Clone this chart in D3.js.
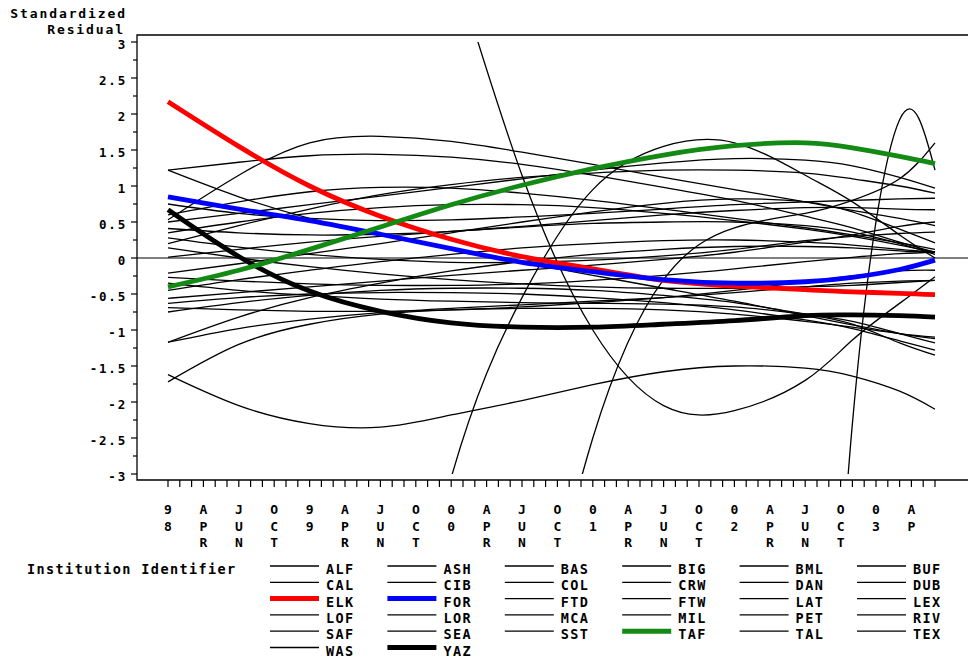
<!DOCTYPE html>
<html>
<head>
<meta charset="utf-8">
<script src="https://cdn.jsdelivr.net/npm/d3@7"></script>
<style>
  html, body { margin: 0; padding: 0; background: #fff; }
  svg { display: block; }
  text { font-family: "DejaVu Sans Mono", "Liberation Mono", monospace; font-weight: bold; fill: #000; }
</style>
</head>
<body>
<svg id="chart" width="968" height="661"></svg>
<script>
// Axis positions (in tick units) at which each smoothed residual curve is listed
const gridT = [0, 6, 12, 18, 24, 30, 36, 42, 48, 54, 58, 62, 65];

// Date labels under every third tick, written one character per line
const dateLabels = ["98", "APR", "JUN", "OCT", "99", "APR", "JUN", "OCT", "00", "APR", "JUN", "OCT",
                    "01", "APR", "JUN", "OCT", "02", "APR", "JUN", "OCT", "03", "AP"];
const tickCount = 66;

const yMajor = [3, 2.5, 2, 1.5, 1, 0.5, 0, -0.5, -1, -1.5, -2, -2.5, -3];
const yMajorLabels = ["3", "2.5", "2", "1.5", "1", "0.5", "0", "-0.5", "-1", "-1.5", "-2", "-2.5", "-3"];
const yMinor = [2.75, 2.25, 1.75, 1.25, 0.75, 0.25, -0.25, -0.75, -1.25, -1.75, -2.25, -2.75];

// Standardized residual per institution
const ALF = [0.53, 1.15, 1.60, 1.69, 1.62, 1.47, 1.30, 1.12, 0.95, 0.78, 0.66, 0.55, 0.45];
const ASH = [1.22, 1.33, 1.42, 1.44, 1.40, 1.30, 1.15, 0.98, 0.80, 0.58, 0.42, 0.22, 0.08];
const BAS = [1.22, 0.85, 0.55, 0.32, 0.12, -0.06, -0.24, -0.42, -0.60, -0.80, -0.93, -1.05, -1.12];
const BIG = [0.75, 0.62, 0.55, 0.52, 0.53, 0.57, 0.62, 0.68, 0.74, 0.78, 0.80, 0.82, 0.83];
const BML = [0.60, 0.78, 0.92, 0.98, 0.97, 0.90, 0.80, 0.68, 0.55, 0.42, 0.32, 0.21, 0.12];
const BUF = [22, 16.5, 11.5, 7.5, 4.2, 1.15, -1.0, -2.05, -2.12, -1.70, -1.14, -0.63, -0.26];
const CAL = [0.50, 0.62, 0.74, 0.86, 0.98, 1.10, 1.22, 1.32, 1.38, 1.36, 1.28, 1.12, 0.97];
const CIB = [0.41, 0.35, 0.32, 0.33, 0.37, 0.44, 0.52, 0.60, 0.66, 0.70, 0.70, 0.68, 0.67];
const COL = [0.35, 0.50, 0.62, 0.70, 0.74, 0.74, 0.70, 0.62, 0.52, 0.40, 0.30, 0.18, 0.08];
const CRW = [0.28, 0.15, 0.05, -0.02, -0.06, -0.06, -0.03, 0.03, 0.12, 0.24, 0.30, 0.34, 0.36];
const DAN = [0.14, 0.0, -0.12, -0.22, -0.30, -0.36, -0.40, -0.42, -0.42, -0.40, -0.38, -0.34, -0.31];
const DUB = [0.01, 0.12, 0.22, 0.30, 0.37, 0.43, 0.48, 0.50, 0.50, 0.45, 0.36, 0.20, 0.05];
const ELK = [2.17, 1.55, 1.0, 0.58, 0.26, 0.02, -0.15, -0.31, -0.39, -0.44, -0.47, -0.49, -0.51];
const FOR = [0.85, 0.68, 0.52, 0.33, 0.13, -0.06, -0.19, -0.30, -0.35, -0.33, -0.27, -0.16, -0.03];
const FTD = [-0.21, -0.08, 0.06, 0.20, 0.35, 0.50, 0.64, 0.76, 0.82, 0.78, 0.64, 0.40, 0.21];
const FTW = [-0.27, -0.32, -0.36, -0.38, -0.38, -0.36, -0.31, -0.24, -0.15, -0.05, 0.01, 0.06, 0.08];
const LAT = [-0.35, -0.45, -0.52, -0.57, -0.60, -0.62, -0.63, -0.64, -0.68, -0.78, -0.88, -1.05, -1.18];
const LEX = [-0.45, -0.30, -0.17, -0.05, 0.05, 0.14, 0.20, 0.24, 0.25, 0.22, 0.18, 0.12, 0.08];
const LOF = [-0.56, -0.48, -0.40, -0.32, -0.24, -0.17, -0.10, -0.02, 0.08, 0.22, 0.32, 0.44, 0.50];
const LOR = [-26, -19, -13, -7.5, -3.05, -0.55, 0.95, 1.55, 1.60, 1.15, 0.78, 0.32, 0.0];
const MCA = [-0.63, -0.55, -0.50, -0.48, -0.48, -0.50, -0.55, -0.62, -0.72, -0.86, -0.98, -1.15, -1.28];
const MIL = [-0.69, -0.72, -0.74, -0.74, -0.72, -0.68, -0.62, -0.55, -0.45, -0.33, -0.25, -0.18, -0.17];
const PET = [-0.75, -0.62, -0.52, -0.45, -0.42, -0.42, -0.45, -0.52, -0.62, -0.78, -0.92, -1.18, -1.35];
const RIV = [-1.17, -0.98, -0.85, -0.76, -0.70, -0.65, -0.60, -0.55, -0.48, -0.40, -0.35, -0.32, -0.31];
const SAF = [-1.17, -0.82, -0.55, -0.35, -0.18, -0.05, 0.05, 0.12, 0.16, 0.16, 0.14, 0.10, 0.08];
const SEA = [-1.72, -1.20, -0.92, -0.78, -0.72, -0.70, -0.70, -0.72, -0.78, -0.88, -0.96, -1.05, -1.10];
const SST = [-1.62, -2.05, -2.30, -2.35, -2.18, -1.98, -1.76, -1.58, -1.50, -1.53, -1.64, -1.85, -2.10];
const TAF = [-0.40, -0.17, 0.12, 0.43, 0.74, 1.01, 1.24, 1.43, 1.56, 1.60, 1.53, 1.41, 1.31];
const TAL = [-33, -27, -21, -16, -11, -6.5, -2.5, -0.3, 0.42, 0.62, 0.80, 1.10, 1.60];
const TEX = [0.20, 0.45, 0.68, 0.88, 1.02, 1.12, 1.18, 1.22, 1.22, 1.18, 1.10, 1.00, 0.90];
const WAS = [-150, -128, -108, -90, -73, -58, -44, -31, -20, -11, -2.3, 1.92, 1.22];
const YAZ = [0.67, 0.02, -0.46, -0.74, -0.90, -0.96, -0.96, -0.92, -0.87, -0.80, -0.79, -0.80, -0.82];

const institutions = ["ALF", "ASH", "BAS", "BIG", "BML", "BUF",
                      "CAL", "CIB", "COL", "CRW", "DAN", "DUB",
                      "ELK", "FOR", "FTD", "FTW", "LAT", "LEX",
                      "LOF", "LOR", "MCA", "MIL", "PET", "RIV",
                      "SAF", "SEA", "SST", "TAF", "TAL", "TEX",
                      "WAS", "YAZ"];
const residuals = { ALF, ASH, BAS, BIG, BML, BUF, CAL, CIB, COL, CRW, DAN, DUB, ELK, FOR, FTD, FTW,
                    LAT, LEX, LOF, LOR, MCA, MIL, PET, RIV, SAF, SEA, SST, TAF, TAL, TEX, WAS, YAZ };

// Institutions drawn with a heavy coloured line (others are thin black)
const highlight = { ELK: "#ff0000", FOR: "#0000ff", YAZ: "#000000", TAF: "#138a13" };
const highlightOrder = ["ELK", "FOR", "YAZ", "TAF"];

const svg = d3.select("#chart");
svg.append("rect").attr("width", 968).attr("height", 661).attr("fill", "#fff");

const frame = { left: 137, top: 35, right: 968, bottom: 480 };
const x = d3.scaleLinear().domain([0, tickCount - 1]).range([168, 935]);
const y = d3.scaleLinear().domain([-3, 3]).range([474, 42]);

// clip curves to the vertical range of the axis
svg.append("defs").append("clipPath").attr("id", "plotClip")
  .append("rect")
  .attr("x", frame.left).attr("y", y(3))
  .attr("width", frame.right - frame.left).attr("height", y(-3) - y(3));

// frame
svg.append("path")
  .attr("d", `M${frame.right},${frame.top}H${frame.left}V${frame.bottom}H${frame.right}`)
  .attr("fill", "none").attr("stroke", "#000").attr("stroke-width", 1.3);

// zero reference line
svg.append("line")
  .attr("x1", frame.left).attr("x2", frame.right)
  .attr("y1", y(0)).attr("y2", y(0))
  .attr("stroke", "#000").attr("stroke-width", 1.1);

// y axis ticks and labels
const yAxis = svg.append("g");
yAxis.selectAll("line.major").data(yMajor).join("line")
  .attr("x1", frame.left - 6).attr("x2", frame.left)
  .attr("y1", d => y(d)).attr("y2", d => y(d))
  .attr("stroke", "#000").attr("stroke-width", 1.2);
yAxis.selectAll("line.minor").data(yMinor).join("line")
  .attr("x1", frame.left - 4).attr("x2", frame.left)
  .attr("y1", d => y(d)).attr("y2", d => y(d))
  .attr("stroke", "#000").attr("stroke-width", 1.2);
yAxis.selectAll("text").data(yMajor).join("text")
  .attr("x", 127).attr("y", d => y(d) + 7)
  .attr("text-anchor", "end")
  .attr("font-size", 12.5).attr("letter-spacing", 1.8)
  .text((d, i) => yMajorLabels[i]);

// y axis title
const yTitle = svg.append("g").attr("font-size", 13).attr("letter-spacing", 1.9);
yTitle.append("text").attr("x", 127).attr("y", 18).attr("text-anchor", "end").text("Standardized");
yTitle.append("text").attr("x", 125).attr("y", 33.5).attr("text-anchor", "end").text("Residual");

// x axis ticks
const xAxis = svg.append("g");
xAxis.selectAll("line").data(d3.range(tickCount)).join("line")
  .attr("x1", d => x(d)).attr("x2", d => x(d))
  .attr("y1", frame.bottom).attr("y2", frame.bottom + 7)
  .attr("stroke", "#000").attr("stroke-width", 1.2);

// x axis labels, stacked vertically
const lab = xAxis.selectAll("g.lab").data(dateLabels).join("g")
  .attr("transform", (d, i) => `translate(${x(i * 3)},0)`);
lab.selectAll("text").data(d => d.split("")).join("text")
  .attr("x", 0).attr("y", (c, j) => 514 + j * 16.5)
  .attr("text-anchor", "middle").attr("font-size", 13)
  .text(c => c);

// curves
const line = d3.line()
  .x((d, i) => x(gridT[i]))
  .y(d => y(d))
  .curve(d3.curveNatural);

const curves = svg.append("g").attr("clip-path", "url(#plotClip)").attr("fill", "none");
curves.selectAll("path.thin")
  .data(institutions.filter(k => !highlight[k]))
  .join("path")
  .attr("d", k => line(residuals[k]))
  .attr("stroke", "#000").attr("stroke-width", 1.3);
curves.selectAll("path.bold")
  .data(highlightOrder)
  .join("path")
  .attr("d", k => line(residuals[k]))
  .attr("stroke", k => highlight[k]).attr("stroke-width", 4.8)
  .attr("stroke-linejoin", "round");

// legend
const legend = svg.append("g");
legend.append("text").attr("x", 27).attr("y", 574)
  .attr("font-size", 13.5).attr("letter-spacing", 1.4)
  .text("Institution Identifier");
const entry = legend.selectAll("g.entry").data(institutions).join("g")
  .attr("transform", (d, i) => `translate(${270 + (i % 6) * 117.4},${566 + Math.floor(i / 6) * 16.3})`);
entry.append("line")
  .attr("x1", 0).attr("x2", 49).attr("y1", 0).attr("y2", 0)
  .attr("stroke", d => highlight[d] || "#000")
  .attr("stroke-width", d => highlight[d] ? 5 : 1.3);
entry.append("text").attr("x", 56).attr("y", 8)
  .attr("font-size", 13.5).attr("letter-spacing", 1.4)
  .text(d => d);
</script>
</body>
</html>
